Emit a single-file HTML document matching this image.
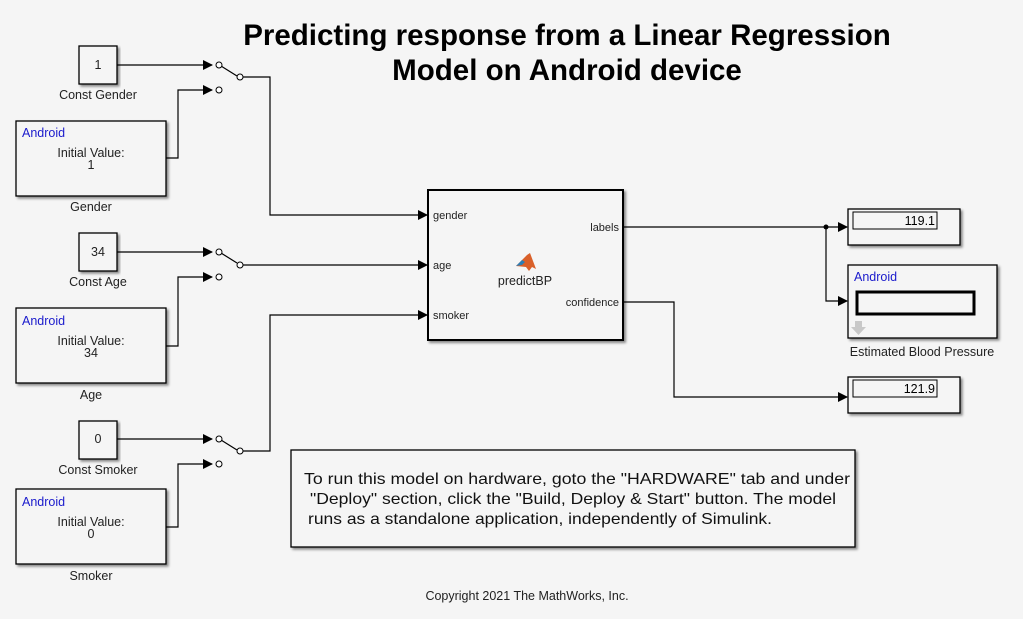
<!DOCTYPE html>
<html><head><meta charset="utf-8"><style>
html,body{margin:0;padding:0;background:#f5f5f5;}
svg{display:block;font-family:"Liberation Sans",Arial,sans-serif;}
</style></head><body>
<svg width="1023" height="619" viewBox="0 0 1023 619" xmlns="http://www.w3.org/2000/svg">
<defs>
<marker id="a" markerWidth="10" markerHeight="10" refX="9" refY="5" orient="auto" markerUnits="userSpaceOnUse"><path d="M0,0 L10,5 L0,10z" fill="#000"/></marker>
<filter id="sh" x="-5%" y="-5%" width="115%" height="120%"><feDropShadow dx="2" dy="2" stdDeviation="1.2" flood-color="#000" flood-opacity="0.45"/></filter>
</defs>
<rect width="1023" height="619" fill="#f5f5f5"/>
<text x="567" y="45" text-anchor="middle" font-size="29.5" font-weight="bold">Predicting response from a Linear Regression</text>
<text x="567" y="80" text-anchor="middle" font-size="29.5" font-weight="bold">Model on Android device</text>

<g stroke="#000" stroke-width="1.3" fill="#f5f5f5">
<rect x="79" y="46" width="38" height="38" filter="url(#sh)"/>
<rect x="79" y="233" width="38" height="38" filter="url(#sh)"/>
<rect x="79" y="421" width="38" height="38" filter="url(#sh)"/>
<rect x="16" y="121" width="150" height="75" filter="url(#sh)"/>
<rect x="16" y="308" width="150" height="75" filter="url(#sh)"/>
<rect x="16" y="489" width="150" height="75" filter="url(#sh)"/>
<rect x="428" y="190" width="195" height="150" stroke-width="2" filter="url(#sh)"/>
<rect x="848" y="209" width="112" height="36" filter="url(#sh)"/>
<rect x="848" y="265" width="149" height="73" filter="url(#sh)"/>
<rect x="848" y="377" width="112" height="36" filter="url(#sh)"/>
<rect x="291" y="450" width="564" height="97" filter="url(#sh)"/>
</g>
<g stroke="#000" fill="#fff">
<rect x="853" y="212" width="84" height="17" stroke-width="1" fill="none"/>
<rect x="853" y="380" width="84" height="17" stroke-width="1" fill="none"/>
<rect x="857" y="292" width="117" height="22" stroke-width="3" fill="none"/>
</g>
<path d="M855,321 h7 v6 h4 l-7.5,8 l-7.5,-8 h4z" fill="#c8c8c8"/>

<g stroke="#000" stroke-width="1.2" fill="none">
<line x1="117" y1="65" x2="212" y2="65" marker-end="url(#a)"/>
<polyline points="166,158 178,158 178,90 212,90" marker-end="url(#a)"/>
<line x1="221" y1="66" x2="237" y2="76"/>
<polyline points="243,77 270,77 270,215 427,215" marker-end="url(#a)"/>
<line x1="117" y1="252" x2="212" y2="252" marker-end="url(#a)"/>
<polyline points="166,346 178,346 178,277 212,277" marker-end="url(#a)"/>
<line x1="221" y1="253" x2="237" y2="263"/>
<line x1="243" y1="265" x2="427" y2="265" marker-end="url(#a)"/>
<line x1="117" y1="439" x2="212" y2="439" marker-end="url(#a)"/>
<polyline points="166,527 178,527 178,464 212,464" marker-end="url(#a)"/>
<line x1="221" y1="440" x2="237" y2="450"/>
<polyline points="243,451 270,451 270,315 427,315" marker-end="url(#a)"/>
<line x1="623" y1="227" x2="847" y2="227" marker-end="url(#a)"/>
<polyline points="826,227 826,301 847,301" marker-end="url(#a)"/>
<polyline points="623,302 674,302 674,397 847,397" marker-end="url(#a)"/>
</g>
<circle cx="826" cy="227" r="2.5" fill="#000"/>
<g fill="#fff" stroke="#000" stroke-width="1">
<circle cx="219" cy="65" r="3"/><circle cx="219" cy="90" r="3"/><circle cx="240" cy="77" r="3"/>
<circle cx="219" cy="252" r="3"/><circle cx="219" cy="277" r="3"/><circle cx="240" cy="265" r="3"/>
<circle cx="219" cy="439" r="3"/><circle cx="219" cy="464" r="3"/><circle cx="240" cy="451" r="3"/>
</g>

<g font-size="12.5" fill="#222" text-anchor="middle">
<text x="98" y="69">1</text>
<text x="98" y="256">34</text>
<text x="98" y="443">0</text>
<text x="98" y="99">Const Gender</text>
<text x="98" y="286">Const Age</text>
<text x="98" y="474">Const Smoker</text>
<text x="91" y="157">Initial Value:</text><text x="91" y="169">1</text>
<text x="91" y="345">Initial Value:</text><text x="91" y="357">34</text>
<text x="91" y="526">Initial Value:</text><text x="91" y="538">0</text>
<text x="91" y="211">Gender</text>
<text x="91" y="399">Age</text>
<text x="91" y="580">Smoker</text>
<text x="525" y="285">predictBP</text>
<text x="922" y="356">Estimated Blood Pressure</text>
<text x="527" y="600">Copyright 2021 The MathWorks, Inc.</text>
</g>
<g font-size="12.5" fill="#1a1acc">
<text x="22" y="137">Android</text>
<text x="22" y="325">Android</text>
<text x="22" y="506">Android</text>
<text x="854" y="281">Android</text>
</g>
<g font-size="11" fill="#222">
<text x="433" y="219">gender</text>
<text x="433" y="269">age</text>
<text x="433" y="319">smoker</text>
<text x="619" y="231" text-anchor="end">labels</text>
<text x="619" y="306" text-anchor="end">confidence</text>
</g>
<g font-size="12.5" fill="#000" text-anchor="end">
<text x="935" y="225">119.1</text>
<text x="935" y="393">121.9</text>
</g>
<path d="M516,266 l6,-6 l5,-5 l3,-2 l6,16 l-4,-2 l-3,4 l-3,-4z" fill="#d9602a"/>
<path d="M516,266 l6,-6 l3,2 l-3,3z" fill="#2a7fb8"/>
<g font-size="16" fill="#111">
<text x="304" y="484" textLength="546" lengthAdjust="spacingAndGlyphs">To run this model on hardware, goto the "HARDWARE" tab and under</text>
<text x="310" y="504" textLength="526" lengthAdjust="spacingAndGlyphs">"Deploy" section, click the "Build, Deploy &amp; Start" button. The model</text>
<text x="308" y="524" textLength="464" lengthAdjust="spacingAndGlyphs">runs as a standalone application, independently of Simulink.</text>
</g>
</svg>
</body></html>
